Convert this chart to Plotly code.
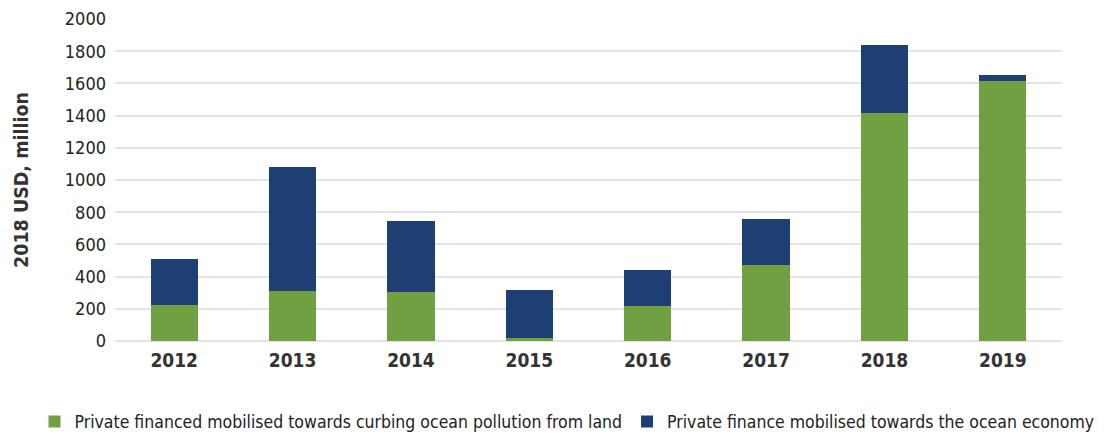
import plotly.graph_objects as go

years = ["2012", "2013", "2014", "2015", "2016", "2017", "2018", "2019"]
pollution_from_land = [222, 310, 306, 20, 215, 470, 1414, 1615]
ocean_economy = [287, 771, 441, 299, 228, 288, 426, 39]
y_ticks = [0, 200, 400, 600, 800, 1000, 1200, 1400, 1600, 1800, 2000]

name_green = "Private financed mobilised towards curbing ocean pollution from land"
name_blue = "Private finance mobilised towards the ocean economy"

FONT = "DejaVu Sans Condensed, Liberation Sans Narrow, Arial Narrow, sans-serif"

fig = go.Figure()
fig.add_trace(go.Bar(x=years, y=pollution_from_land, name=name_green,
                     marker=dict(color="#70A041", line=dict(width=0))))
fig.add_trace(go.Bar(x=years, y=ocean_economy, name=name_blue,
                     marker=dict(color="#1D3F73", line=dict(width=0))))

fig.update_layout(
    barmode="stack",
    bargap=0.6,
    width=1111, height=437,
    margin=dict(l=115, r=49, t=19, b=96, autoexpand=False),
    plot_bgcolor="white", paper_bgcolor="white",
    font=dict(family=FONT, size=18, color="#222222"),
    legend=dict(orientation="h", x=-0.085, xanchor="left", y=-0.25, yanchor="middle",
                font=dict(size=17.5, color="#222222"), itemwidth=30,
                traceorder="normal", tracegroupgap=0),
    xaxis=dict(tickfont=dict(size=19, family=FONT, color="#333333", weight="bold"),
               showgrid=False, ticks="", showline=False, automargin=False,
               ticklabelstandoff=6),
    yaxis=dict(range=[0, 2000], tickvals=y_ticks, showgrid=True, gridcolor="#E4E4E4",
               gridwidth=1.5, zeroline=True, zerolinecolor="#E4E4E4", zerolinewidth=1.5,
               tickfont=dict(size=18, color="#222222"), ticks="", ticklen=0,
               automargin=False, ticklabelstandoff=8,
               title=dict(text="<b>2018 USD, million</b>", font=dict(size=19.5, color="#333333"),
                          standoff=30)),
)

fig.write_html("out.html", config={"displayModeBar": False},
               post_script="document.body.style.margin='0';document.body.style.overflow='hidden';")
